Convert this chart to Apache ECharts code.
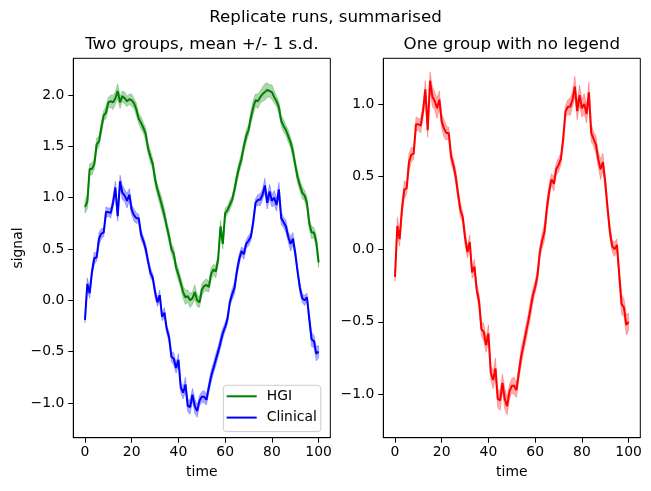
<!DOCTYPE html>
<html>
<head>
<meta charset="utf-8">
<script src="https://cdn.jsdelivr.net/npm/echarts@6/dist/echarts.min.js"></script>
<style>
html,body{margin:0;padding:0;background:#fff;}
#c{width:651px;height:491px;}
</style>
</head>
<body>
<div id="c"></div>
<script>
// ---- data ----
const time = Array.from({length: 101}, (_, i) => i);

const hgiMean = [0.91,0.96,1.28,1.28,1.33,1.52,1.55,1.68,1.80,1.83,
1.93,1.94,1.93,1.97,2.04,1.93,1.99,1.97,1.94,1.96,
1.95,1.92,1.86,1.77,1.73,1.68,1.62,1.48,1.40,1.33,
1.18,1.08,1.00,0.92,0.83,0.72,0.62,0.50,0.45,0.32,
0.25,0.17,0.08,0.03,0.04,0.00,0.02,0.08,0.00,-0.02,
0.10,0.14,0.15,0.13,0.26,0.30,0.28,0.40,0.72,0.55,
0.85,0.88,0.93,0.98,1.08,1.20,1.30,1.38,1.50,1.60,
1.66,1.78,1.88,1.95,1.94,1.98,2.01,2.03,2.05,2.04,
2.03,1.98,1.94,1.88,1.75,1.70,1.66,1.60,1.54,1.45,
1.32,1.20,1.12,1.05,1.02,0.95,0.75,0.66,0.66,0.57,
0.37];

const hgiSd = [0.06,0.07,0.05,0.06,0.05,0.06,0.05,0.06,0.05,0.06,
0.05,0.06,0.07,0.06,0.07,0.06,0.05,0.06,0.05,0.05,
0.06,0.05,0.06,0.05,0.06,0.05,0.06,0.05,0.06,0.05,
0.06,0.05,0.06,0.07,0.06,0.05,0.06,0.05,0.06,0.05,
0.06,0.05,0.06,0.07,0.06,0.07,0.06,0.07,0.06,0.05,
0.06,0.05,0.06,0.05,0.06,0.05,0.06,0.05,0.06,0.05,
0.05,0.04,0.05,0.04,0.05,0.06,0.05,0.06,0.05,0.06,
0.05,0.06,0.07,0.06,0.07,0.06,0.07,0.08,0.07,0.06,
0.07,0.06,0.05,0.06,0.05,0.06,0.05,0.06,0.05,0.06,
0.05,0.06,0.05,0.06,0.05,0.06,0.05,0.06,0.05,0.06,
0.05];

const clinMean = [-0.19,0.16,0.07,0.28,0.41,0.42,0.60,0.65,0.66,0.86,
0.86,0.85,0.95,1.10,0.82,1.16,1.05,1.02,0.97,1.03,
0.88,0.83,0.80,0.80,0.64,0.58,0.50,0.38,0.27,0.22,
0.08,-0.02,0.05,-0.16,-0.12,-0.28,-0.36,-0.55,-0.57,-0.66,
-0.58,-0.85,-0.90,-0.82,-1.03,-1.04,-0.92,-1.03,-1.08,-0.98,
-0.94,-0.94,-0.97,-0.85,-0.74,-0.66,-0.58,-0.50,-0.41,-0.32,
-0.26,-0.18,-0.02,0.06,0.12,0.28,0.40,0.48,0.45,0.55,
0.58,0.62,0.76,0.95,0.98,0.98,1.03,1.12,0.95,1.06,
0.97,1.00,0.93,1.08,0.80,0.76,0.72,0.62,0.55,0.60,
0.46,0.28,0.12,0.02,0.00,0.03,-0.18,-0.38,-0.40,-0.52,
-0.50];

const clinSd = [0.03,0.06,0.05,0.05,0.06,0.04,0.06,0.05,0.04,0.05,
0.04,0.05,0.05,0.06,0.05,0.06,0.07,0.06,0.07,0.06,
0.05,0.06,0.05,0.04,0.05,0.04,0.05,0.04,0.05,0.04,
0.05,0.04,0.05,0.04,0.05,0.04,0.05,0.05,0.06,0.05,
0.06,0.05,0.06,0.07,0.06,0.07,0.06,0.07,0.06,0.05,
0.05,0.06,0.05,0.05,0.06,0.05,0.06,0.05,0.06,0.05,
0.04,0.05,0.04,0.05,0.06,0.05,0.05,0.04,0.05,0.04,
0.05,0.04,0.05,0.04,0.05,0.06,0.05,0.07,0.06,0.07,
0.06,0.07,0.06,0.07,0.06,0.05,0.06,0.05,0.07,0.06,
0.05,0.04,0.05,0.04,0.05,0.04,0.06,0.07,0.06,0.07,
0.06];

const xTicks = [0, 20, 40, 60, 80, 100];
const yTicksLeft = [-1.0, -0.5, 0.0, 0.5, 1.0, 1.5, 2.0];
const yTicksRight = [-1.0, -0.5, 0.0, 0.5, 1.0];

const suptitle = 'Replicate runs, summarised';
const titleLeft = 'Two groups, mean +/- 1 s.d.';
const titleRight = 'One group with no legend';
const xLabel = 'time';
const yLabel = 'signal';

// ---- chart ----
const FONT = 'DejaVu Sans';
const chart = echarts.init(document.getElementById('c'), null, {renderer: 'canvas'});

const G = [
  {left: 73.3, top: 58.3, width: 257, height: 379.4},
  {left: 383.3, top: 58.3, width: 257, height: 379.4}
];

function fmtY(v) {
  const s = Math.abs(v).toFixed(1);
  return (v < -1e-9 ? '\u2212' : '') + s;
}

function xAxisCfg(gi) {
  return {
    type: 'value', gridIndex: gi, min: -5, max: 105,
    splitLine: {show: false},
    axisLine: {show: true, onZero: false, lineStyle: {color: '#000', width: 1}},
    axisTick: {show: true, length: 5, lineStyle: {color: '#000', width: 1}, customValues: xTicks},
    axisLabel: {color: '#000', fontFamily: FONT, fontSize: 13.9, margin: 8, customValues: xTicks,
      formatter: v => String(Math.round(v))}
  };
}
function yAxisCfg(gi, min, max, ticks) {
  return {
    type: 'value', gridIndex: gi, min: min, max: max,
    splitLine: {show: false},
    axisLine: {show: true, onZero: false, lineStyle: {color: '#000', width: 1}},
    axisTick: {show: true, length: 5, lineStyle: {color: '#000', width: 1}, customValues: ticks},
    axisLabel: {color: '#000', fontFamily: FONT, fontSize: 13.9, margin: 9, customValues: ticks,
      formatter: fmtY}
  };
}

function group(name, mean, sd, color, fill, gi) {
  const band = time.map((t, i) => [t, mean[i] - sd[i], mean[i] + sd[i]]);
  const mid = time.map((t, i) => [t, mean[i]]);
  return [
    {
      name: name + ' band', type: 'custom', xAxisIndex: gi, yAxisIndex: gi,
      data: band, silent: true, clip: true, z: 2,
      encode: {x: 0, y: [1, 2]},
      renderItem: function (params, api) {
        if (params.dataIndex !== 0) return null;
        const upper = band.map(d => api.coord([d[0], d[2]]));
        const lower = band.map(d => api.coord([d[0], d[1]])).reverse();
        return {
          type: 'polygon',
          shape: {points: upper.concat(lower)},
          style: {fill: fill, stroke: fill, lineWidth: 0.8}
        };
      }
    },
    {
      name: name, type: 'line', xAxisIndex: gi, yAxisIndex: gi,
      data: mid, symbol: 'none', color: color,
      lineStyle: {width: 2, color: color}, z: 3
    }
  ];
}

const series = [].concat(
  group('HGI', hgiMean, hgiSd, '#008000', 'rgba(0,128,0,0.32)', 0),
  group('Clinical', clinMean, clinSd, '#0000ff', 'rgba(0,0,255,0.32)', 0),
  group('Clinical (right)', clinMean, clinSd, '#ff0000', 'rgba(255,0,0,0.32)', 1)
);

function txt(text, x, y, size, rot) {
  return {
    type: 'text', x: x, y: y, rotation: rot || 0, z: 10,
    style: {text: text, fill: '#000', font: size + 'px "' + FONT + '"', align: 'center', verticalAlign: 'middle'}
  };
}

chart.setOption({
  animation: false,
  backgroundColor: '#fff',
  grid: G.map(g => Object.assign({show: true, borderColor: '#000', borderWidth: 1, backgroundColor: 'transparent', containLabel: false}, g)),
  xAxis: [xAxisCfg(0), xAxisCfg(1)],
  yAxis: [yAxisCfg(0, -1.339, 2.359, yTicksLeft), yAxisCfg(1, -1.297, 1.314, yTicksRight)],
  legend: {
    data: [{name: 'HGI'}, {name: 'Clinical'}],
    orient: 'vertical', left: 223.3, top: 385.3,
    icon: 'rect', itemWidth: 30, itemHeight: 2, itemGap: 5.3,
    padding: [3, 4, 6, 3.4],
    backgroundColor: 'rgba(255,255,255,0.8)', borderColor: '#cccccc', borderWidth: 1, borderRadius: 3,
    textStyle: {color: '#000', fontFamily: FONT, fontSize: 13.9, lineHeight: 16, padding: [0, 0, 0, 5]},
    selectedMode: false
  },
  graphic: [
    txt(suptitle, 325.5, 17.5, 16.67),
    txt(titleLeft, 201.8, 45, 16.67),
    txt(titleRight, 511.8, 45, 16.67),
    txt(xLabel, 201.8, 472, 13.9),
    txt(xLabel, 511.8, 472, 13.9),
    txt(yLabel, 18, 248, 13.9, Math.PI / 2)
  ],
  series: series
});
</script>
</body>
</html>
